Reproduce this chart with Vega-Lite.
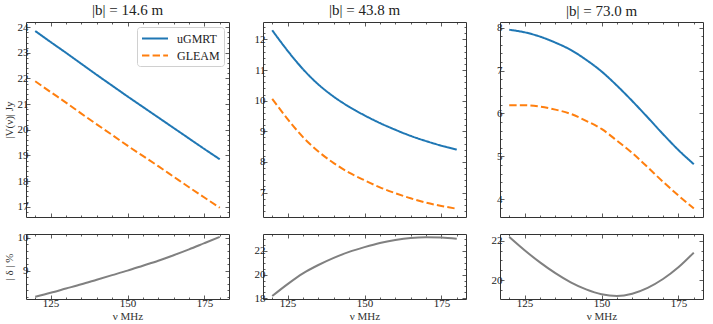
{
  "$schema": "https://vega.github.io/schema/vega-lite/v6.json",
  "padding": {"left": 2, "top": 2, "right": 5, "bottom": 0},
  "datasets": {
    "p1": [
      {"nu":120,"flux":23.85,"series":"uGMRT"},{"nu":125,"flux":23.42,"series":"uGMRT"},{"nu":130,"flux":23.0,"series":"uGMRT"},{"nu":135,"flux":22.57,"series":"uGMRT"},{"nu":140,"flux":22.14,"series":"uGMRT"},{"nu":145,"flux":21.72,"series":"uGMRT"},{"nu":150,"flux":21.3,"series":"uGMRT"},{"nu":155,"flux":20.89,"series":"uGMRT"},{"nu":160,"flux":20.48,"series":"uGMRT"},{"nu":165,"flux":20.07,"series":"uGMRT"},{"nu":170,"flux":19.66,"series":"uGMRT"},{"nu":175,"flux":19.25,"series":"uGMRT"},{"nu":180,"flux":18.85,"series":"uGMRT"},
      {"nu":120,"flux":21.89,"series":"GLEAM"},{"nu":125,"flux":21.47,"series":"GLEAM"},{"nu":130,"flux":21.06,"series":"GLEAM"},{"nu":135,"flux":20.63,"series":"GLEAM"},{"nu":140,"flux":20.21,"series":"GLEAM"},{"nu":145,"flux":19.8,"series":"GLEAM"},{"nu":150,"flux":19.38,"series":"GLEAM"},{"nu":155,"flux":18.98,"series":"GLEAM"},{"nu":160,"flux":18.58,"series":"GLEAM"},{"nu":165,"flux":18.17,"series":"GLEAM"},{"nu":170,"flux":17.76,"series":"GLEAM"},{"nu":175,"flux":17.36,"series":"GLEAM"},{"nu":180,"flux":16.96,"series":"GLEAM"}
    ],
    "p2": [
      {"nu":120,"flux":12.3,"series":"uGMRT"},{"nu":125,"flux":11.63,"series":"uGMRT"},{"nu":130,"flux":11.03,"series":"uGMRT"},{"nu":135,"flux":10.53,"series":"uGMRT"},{"nu":140,"flux":10.13,"series":"uGMRT"},{"nu":145,"flux":9.8,"series":"uGMRT"},{"nu":150,"flux":9.52,"series":"uGMRT"},{"nu":155,"flux":9.27,"series":"uGMRT"},{"nu":160,"flux":9.05,"series":"uGMRT"},{"nu":165,"flux":8.85,"series":"uGMRT"},{"nu":170,"flux":8.68,"series":"uGMRT"},{"nu":175,"flux":8.53,"series":"uGMRT"},{"nu":180,"flux":8.4,"series":"uGMRT"},
      {"nu":120,"flux":10.06,"series":"GLEAM"},{"nu":125,"flux":9.4,"series":"GLEAM"},{"nu":130,"flux":8.81,"series":"GLEAM"},{"nu":135,"flux":8.34,"series":"GLEAM"},{"nu":140,"flux":7.96,"series":"GLEAM"},{"nu":145,"flux":7.65,"series":"GLEAM"},{"nu":150,"flux":7.4,"series":"GLEAM"},{"nu":155,"flux":7.17,"series":"GLEAM"},{"nu":160,"flux":6.98,"series":"GLEAM"},{"nu":165,"flux":6.81,"series":"GLEAM"},{"nu":170,"flux":6.67,"series":"GLEAM"},{"nu":175,"flux":6.56,"series":"GLEAM"},{"nu":180,"flux":6.47,"series":"GLEAM"}
    ],
    "p3": [
      {"nu":120,"flux":7.95,"series":"uGMRT"},{"nu":125,"flux":7.89,"series":"uGMRT"},{"nu":130,"flux":7.79,"series":"uGMRT"},{"nu":135,"flux":7.65,"series":"uGMRT"},{"nu":140,"flux":7.48,"series":"uGMRT"},{"nu":145,"flux":7.25,"series":"uGMRT"},{"nu":150,"flux":6.98,"series":"uGMRT"},{"nu":155,"flux":6.65,"series":"uGMRT"},{"nu":160,"flux":6.29,"series":"uGMRT"},{"nu":165,"flux":5.91,"series":"uGMRT"},{"nu":170,"flux":5.52,"series":"uGMRT"},{"nu":175,"flux":5.15,"series":"uGMRT"},{"nu":180,"flux":4.82,"series":"uGMRT"},
      {"nu":120,"flux":6.19,"series":"GLEAM"},{"nu":125,"flux":6.19,"series":"GLEAM"},{"nu":130,"flux":6.16,"series":"GLEAM"},{"nu":135,"flux":6.09,"series":"GLEAM"},{"nu":140,"flux":5.99,"series":"GLEAM"},{"nu":145,"flux":5.83,"series":"GLEAM"},{"nu":150,"flux":5.64,"series":"GLEAM"},{"nu":155,"flux":5.37,"series":"GLEAM"},{"nu":160,"flux":5.08,"series":"GLEAM"},{"nu":165,"flux":4.75,"series":"GLEAM"},{"nu":170,"flux":4.41,"series":"GLEAM"},{"nu":175,"flux":4.09,"series":"GLEAM"},{"nu":180,"flux":3.79,"series":"GLEAM"}
    ],
    "d1": [
      {"nu":120,"delta":8.2},{"nu":125,"delta":8.32},{"nu":130,"delta":8.45},{"nu":135,"delta":8.58},{"nu":140,"delta":8.72},{"nu":145,"delta":8.86},{"nu":150,"delta":9.0},{"nu":155,"delta":9.15},{"nu":160,"delta":9.3},{"nu":165,"delta":9.47},{"nu":170,"delta":9.65},{"nu":175,"delta":9.84},{"nu":180,"delta":10.03}
    ],
    "d2": [
      {"nu":120,"delta":18.2},{"nu":125,"delta":19.2},{"nu":130,"delta":20.1},{"nu":135,"delta":20.8},{"nu":140,"delta":21.4},{"nu":145,"delta":21.9},{"nu":150,"delta":22.3},{"nu":155,"delta":22.65},{"nu":160,"delta":22.9},{"nu":165,"delta":23.07},{"nu":170,"delta":23.13},{"nu":175,"delta":23.1},{"nu":180,"delta":23.0}
    ],
    "d3": [
      {"nu":120,"delta":22.2},{"nu":125,"delta":21.52},{"nu":130,"delta":20.9},{"nu":135,"delta":20.35},{"nu":140,"delta":19.88},{"nu":145,"delta":19.52},{"nu":150,"delta":19.27},{"nu":155,"delta":19.18},{"nu":160,"delta":19.3},{"nu":165,"delta":19.6},{"nu":170,"delta":20.05},{"nu":175,"delta":20.65},{"nu":180,"delta":21.4}
    ]
  },
  "vconcat": [
    {
      "hconcat": [
        {
          "width": 203, "height": 195,
          "title": "|b| = 14.6 m",
          "data": {"name": "p1"},
          "layer": [
            {
              "mark": {"type": "line", "strokeWidth": 2, "interpolate": "monotone"},
              "encoding": {
                "x": {"field": "nu", "type": "quantitative", "scale": {"domain": [117, 183], "nice": false, "zero": false},
                  "axis": {"orient": "bottom", "values": [120,125,130,135,140,145,150,155,160,165,170,175,180], "labels": false, "title": null,
                    "tickSize": {"condition": {"test": "datum.value % 25 === 0", "value": -4}, "value": -2}}},
                "y": {"field": "flux", "type": "quantitative", "scale": {"domain": [16.6, 24.2], "nice": false, "zero": false},
                  "axis": {"orient": "left", "values": [16.8,17,17.2,17.4,17.6,17.8,18,18.2,18.4,18.6,18.8,19,19.2,19.4,19.6,19.8,20,20.2,20.4,20.6,20.8,21,21.2,21.4,21.6,21.8,22,22.2,22.4,22.6,22.8,23,23.2,23.4,23.6,23.8,24],
                    "format": ".0f", "labelExpr": "abs(datum.value - round(datum.value)) < 0.001 ? datum.label : ''", "labelPadding": 2, "title": "|V(ν)| Jy",
                    "tickSize": {"condition": {"test": "abs(datum.value - round(datum.value)) < 0.001", "value": -4}, "value": -2}}},
                "color": {"field": "series", "type": "nominal", "scale": {"domain": ["uGMRT", "GLEAM"], "range": ["#1f77b4", "#ff7f0e"]}, "legend": {"title": null}},
                "strokeDash": {"field": "series", "type": "nominal", "scale": {"domain": ["uGMRT", "GLEAM"], "range": [[1, 0], [7.4, 3.2]]}, "legend": {"title": null}}
              }
            },
            {
              "mark": {"type": "line", "strokeOpacity": 0},
              "encoding": {
                "x": {"field": "nu", "type": "quantitative",
                  "axis": {"orient": "top", "values": [120,125,130,135,140,145,150,155,160,165,170,175,180], "labels": false, "title": null,
                    "tickSize": {"condition": {"test": "datum.value % 25 === 0", "value": -4}, "value": -2}}},
                "y": {"field": "flux", "type": "quantitative",
                  "axis": {"orient": "right", "values": [16.8,17,17.2,17.4,17.6,17.8,18,18.2,18.4,18.6,18.8,19,19.2,19.4,19.6,19.8,20,20.2,20.4,20.6,20.8,21,21.2,21.4,21.6,21.8,22,22.2,22.4,22.6,22.8,23,23.2,23.4,23.6,23.8,24], "labels": false, "title": null,
                    "tickSize": {"condition": {"test": "abs(datum.value - round(datum.value)) < 0.001", "value": -4}, "value": -2}}}
              }
            }
          ],
          "resolve": {"axis": {"x": "independent", "y": "independent"}}
        },
        {
          "width": 203, "height": 195,
          "title": "|b| = 43.8 m",
          "data": {"name": "p2"},
          "layer": [
            {
              "mark": {"type": "line", "strokeWidth": 2, "interpolate": "monotone"},
              "encoding": {
                "x": {"field": "nu", "type": "quantitative", "scale": {"domain": [117, 183], "nice": false, "zero": false},
                  "axis": {"orient": "bottom", "values": [120,125,130,135,140,145,150,155,160,165,170,175,180], "labels": false, "title": null,
                    "tickSize": {"condition": {"test": "datum.value % 25 === 0", "value": -4}, "value": -2}}},
                "y": {"field": "flux", "type": "quantitative", "scale": {"domain": [6.2, 12.57], "nice": false, "zero": false},
                  "axis": {"orient": "left", "values": [6.4,6.6,6.8,7,7.2,7.4,7.6,7.8,8,8.2,8.4,8.6,8.8,9,9.2,9.4,9.6,9.8,10,10.2,10.4,10.6,10.8,11,11.2,11.4,11.6,11.8,12,12.2,12.4],
                    "format": ".0f", "labelExpr": "abs(datum.value - round(datum.value)) < 0.001 ? datum.label : ''", "labelPadding": 2, "title": null,
                    "tickSize": {"condition": {"test": "abs(datum.value - round(datum.value)) < 0.001", "value": -4}, "value": -2}}},
                "color": {"field": "series", "type": "nominal", "scale": {"domain": ["uGMRT", "GLEAM"], "range": ["#1f77b4", "#ff7f0e"]}, "legend": null},
                "strokeDash": {"field": "series", "type": "nominal", "scale": {"domain": ["uGMRT", "GLEAM"], "range": [[1, 0], [7.4, 3.2]]}, "legend": null}
              }
            },
            {
              "mark": {"type": "line", "strokeOpacity": 0},
              "encoding": {
                "x": {"field": "nu", "type": "quantitative",
                  "axis": {"orient": "top", "values": [120,125,130,135,140,145,150,155,160,165,170,175,180], "labels": false, "title": null,
                    "tickSize": {"condition": {"test": "datum.value % 25 === 0", "value": -4}, "value": -2}}},
                "y": {"field": "flux", "type": "quantitative",
                  "axis": {"orient": "right", "values": [6.4,6.6,6.8,7,7.2,7.4,7.6,7.8,8,8.2,8.4,8.6,8.8,9,9.2,9.4,9.6,9.8,10,10.2,10.4,10.6,10.8,11,11.2,11.4,11.6,11.8,12,12.2,12.4], "labels": false, "title": null,
                    "tickSize": {"condition": {"test": "abs(datum.value - round(datum.value)) < 0.001", "value": -4}, "value": -2}}}
              }
            }
          ],
          "resolve": {"axis": {"x": "independent", "y": "independent"}}
        },
        {
          "width": 203, "height": 195,
          "title": "|b| = 73.0 m",
          "data": {"name": "p3"},
          "layer": [
            {
              "mark": {"type": "line", "strokeWidth": 2, "interpolate": "monotone"},
              "encoding": {
                "x": {"field": "nu", "type": "quantitative", "scale": {"domain": [117, 183], "nice": false, "zero": false},
                  "axis": {"orient": "bottom", "values": [120,125,130,135,140,145,150,155,160,165,170,175,180], "labels": false, "title": null,
                    "tickSize": {"condition": {"test": "datum.value % 25 === 0", "value": -4}, "value": -2}}},
                "y": {"field": "flux", "type": "quantitative", "scale": {"domain": [3.59, 8.13], "nice": false, "zero": false},
                  "axis": {"orient": "left", "values": [3.8,4,4.2,4.4,4.6,4.8,5,5.2,5.4,5.6,5.8,6,6.2,6.4,6.6,6.8,7,7.2,7.4,7.6,7.8,8],
                    "format": ".0f", "labelExpr": "abs(datum.value - round(datum.value)) < 0.001 ? datum.label : ''", "labelPadding": 2, "title": null,
                    "tickSize": {"condition": {"test": "abs(datum.value - round(datum.value)) < 0.001", "value": -4}, "value": -2}}},
                "color": {"field": "series", "type": "nominal", "scale": {"domain": ["uGMRT", "GLEAM"], "range": ["#1f77b4", "#ff7f0e"]}, "legend": null},
                "strokeDash": {"field": "series", "type": "nominal", "scale": {"domain": ["uGMRT", "GLEAM"], "range": [[1, 0], [7.4, 3.2]]}, "legend": null}
              }
            },
            {
              "mark": {"type": "line", "strokeOpacity": 0},
              "encoding": {
                "x": {"field": "nu", "type": "quantitative",
                  "axis": {"orient": "top", "values": [120,125,130,135,140,145,150,155,160,165,170,175,180], "labels": false, "title": null,
                    "tickSize": {"condition": {"test": "datum.value % 25 === 0", "value": -4}, "value": -2}}},
                "y": {"field": "flux", "type": "quantitative",
                  "axis": {"orient": "right", "values": [3.8,4,4.2,4.4,4.6,4.8,5,5.2,5.4,5.6,5.8,6,6.2,6.4,6.6,6.8,7,7.2,7.4,7.6,7.8,8], "labels": false, "title": null,
                    "tickSize": {"condition": {"test": "abs(datum.value - round(datum.value)) < 0.001", "value": -4}, "value": -2}}}
              }
            }
          ],
          "resolve": {"axis": {"x": "independent", "y": "independent"}}
        }
      ],
      "spacing": 34, "bounds": "flush",
      "resolve": {"scale": {"color": "independent", "strokeDash": "independent"}, "legend": {"color": "independent", "strokeDash": "independent"}}
    },
    {
      "hconcat": [
        {
          "width": 203, "height": 65,
          "data": {"name": "d1"},
          "layer": [
            {
              "mark": {"type": "line", "strokeWidth": 2, "color": "#808080", "interpolate": "monotone"},
              "encoding": {
                "x": {"field": "nu", "type": "quantitative", "scale": {"domain": [117, 183], "nice": false, "zero": false},
                  "axis": {"orient": "bottom", "values": [120,125,130,135,140,145,150,155,160,165,170,175,180], "format": ".0f", "labelExpr": "datum.value % 25 === 0 ? datum.label : ''", "labelPadding": 2, "title": "ν MHz", "titlePadding": 0,
                    "tickSize": {"condition": {"test": "datum.value % 25 === 0", "value": -4}, "value": -2}}},
                "y": {"field": "delta", "type": "quantitative", "scale": {"domain": [8.13, 10.12], "nice": false, "zero": false},
                  "axis": {"orient": "left", "values": [8.2,8.4,8.6,8.8,9,9.2,9.4,9.6,9.8,10],
                    "format": ".0f", "labelExpr": "abs(datum.value - round(datum.value)) < 0.001 ? datum.label : ''", "labelPadding": 2, "title": "| δ | %",
                    "tickSize": {"condition": {"test": "abs(datum.value - round(datum.value)) < 0.001", "value": -4}, "value": -2}}}
              }
            },
            {
              "mark": {"type": "line", "strokeOpacity": 0},
              "encoding": {
                "x": {"field": "nu", "type": "quantitative",
                  "axis": {"orient": "top", "values": [120,125,130,135,140,145,150,155,160,165,170,175,180], "labels": false, "title": null,
                    "tickSize": {"condition": {"test": "datum.value % 25 === 0", "value": -4}, "value": -2}}},
                "y": {"field": "delta", "type": "quantitative",
                  "axis": {"orient": "right", "values": [8.2,8.4,8.6,8.8,9,9.2,9.4,9.6,9.8,10], "labels": false, "title": null,
                    "tickSize": {"condition": {"test": "abs(datum.value - round(datum.value)) < 0.001", "value": -4}, "value": -2}}}
              }
            }
          ],
          "resolve": {"axis": {"x": "independent", "y": "independent"}}
        },
        {
          "width": 203, "height": 65,
          "data": {"name": "d2"},
          "layer": [
            {
              "mark": {"type": "line", "strokeWidth": 2, "color": "#808080", "interpolate": "monotone"},
              "encoding": {
                "x": {"field": "nu", "type": "quantitative", "scale": {"domain": [117, 183], "nice": false, "zero": false},
                  "axis": {"orient": "bottom", "values": [120,125,130,135,140,145,150,155,160,165,170,175,180], "format": ".0f", "labelExpr": "datum.value % 25 === 0 ? datum.label : ''", "labelPadding": 2, "title": "ν MHz", "titlePadding": 0,
                    "tickSize": {"condition": {"test": "datum.value % 25 === 0", "value": -4}, "value": -2}}},
                "y": {"field": "delta", "type": "quantitative", "scale": {"domain": [17.95, 23.4], "nice": false, "zero": false},
                  "axis": {"orient": "left", "values": [18,18.5,19,19.5,20,20.5,21,21.5,22,22.5,23],
                    "format": ".0f", "labelExpr": "abs(datum.value / 2 - round(datum.value / 2)) < 0.001 ? datum.label : ''", "labelPadding": 2, "title": null,
                    "tickSize": {"condition": {"test": "abs(datum.value / 2 - round(datum.value / 2)) < 0.001", "value": -4}, "value": -2}}}
              }
            },
            {
              "mark": {"type": "line", "strokeOpacity": 0},
              "encoding": {
                "x": {"field": "nu", "type": "quantitative",
                  "axis": {"orient": "top", "values": [120,125,130,135,140,145,150,155,160,165,170,175,180], "labels": false, "title": null,
                    "tickSize": {"condition": {"test": "datum.value % 25 === 0", "value": -4}, "value": -2}}},
                "y": {"field": "delta", "type": "quantitative",
                  "axis": {"orient": "right", "values": [18,18.5,19,19.5,20,20.5,21,21.5,22,22.5,23], "labels": false, "title": null,
                    "tickSize": {"condition": {"test": "abs(datum.value / 2 - round(datum.value / 2)) < 0.001", "value": -4}, "value": -2}}}
              }
            }
          ],
          "resolve": {"axis": {"x": "independent", "y": "independent"}}
        },
        {
          "width": 203, "height": 65,
          "data": {"name": "d3"},
          "layer": [
            {
              "mark": {"type": "line", "strokeWidth": 2, "color": "#808080", "interpolate": "monotone"},
              "encoding": {
                "x": {"field": "nu", "type": "quantitative", "scale": {"domain": [117, 183], "nice": false, "zero": false},
                  "axis": {"orient": "bottom", "values": [120,125,130,135,140,145,150,155,160,165,170,175,180], "format": ".0f", "labelExpr": "datum.value % 25 === 0 ? datum.label : ''", "labelPadding": 2, "title": "ν MHz", "titlePadding": 0,
                    "tickSize": {"condition": {"test": "datum.value % 25 === 0", "value": -4}, "value": -2}}},
                "y": {"field": "delta", "type": "quantitative", "scale": {"domain": [19.03, 22.35], "nice": false, "zero": false},
                  "axis": {"orient": "left", "values": [19.5,20,20.5,21,21.5,22],
                    "format": ".0f", "labelExpr": "abs(datum.value / 2 - round(datum.value / 2)) < 0.001 ? datum.label : ''", "labelPadding": 2, "title": null,
                    "tickSize": {"condition": {"test": "abs(datum.value / 2 - round(datum.value / 2)) < 0.001", "value": -4}, "value": -2}}}
              }
            },
            {
              "mark": {"type": "line", "strokeOpacity": 0},
              "encoding": {
                "x": {"field": "nu", "type": "quantitative",
                  "axis": {"orient": "top", "values": [120,125,130,135,140,145,150,155,160,165,170,175,180], "labels": false, "title": null,
                    "tickSize": {"condition": {"test": "datum.value % 25 === 0", "value": -4}, "value": -2}}},
                "y": {"field": "delta", "type": "quantitative",
                  "axis": {"orient": "right", "values": [19.5,20,20.5,21,21.5,22], "labels": false, "title": null,
                    "tickSize": {"condition": {"test": "abs(datum.value / 2 - round(datum.value / 2)) < 0.001", "value": -4}, "value": -2}}}
              }
            }
          ],
          "resolve": {"axis": {"x": "independent", "y": "independent"}}
        }
      ],
      "spacing": 34, "bounds": "flush"
    }
  ],
  "spacing": 13,
  "resolve": {"scale": {"color": "independent", "strokeDash": "independent"}, "legend": {"color": "independent", "strokeDash": "independent"}},
  "config": {
    "font": "Liberation Serif",
    "view": {"stroke": "#333333", "strokeWidth": 1},
    "axis": {"domain": false, "grid": false, "tickColor": "#333333", "tickWidth": 0.8, "labelFont": "Liberation Serif", "labelFontSize": 11, "labelColor": "#222222", "labelFlush": false, "labelOverlap": false, "titleFont": "Liberation Serif", "titleFontSize": 11, "titleFontWeight": "normal", "titleColor": "#333333", "titlePadding": 3},
    "title": {"font": "Liberation Serif", "fontSize": 15, "fontWeight": "normal", "color": "#222222", "offset": 3, "anchor": "middle", "frame": "group"},
    "legend": {"orient": "top-right", "offset": 5, "padding": 4, "cornerRadius": 3, "strokeColor": "#d0d0d0", "fillColor": "white", "symbolType": "M-1,0H3", "symbolSize": 169, "symbolStrokeWidth": 2, "labelFont": "Liberation Serif", "labelFontSize": 12, "labelColor": "#222222", "rowPadding": 3, "labelOffset": 21}
  }
}
